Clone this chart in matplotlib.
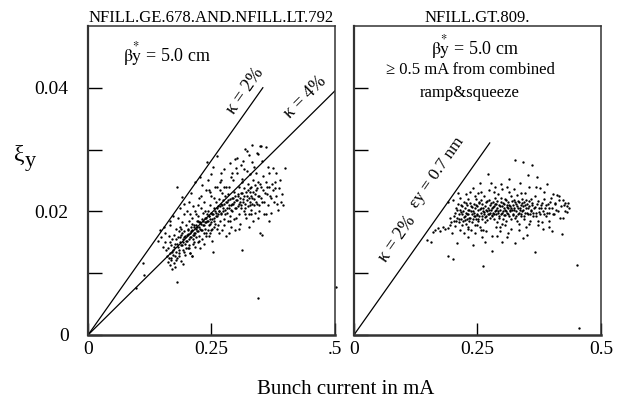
import numpy as np
import matplotlib
matplotlib.use("Agg")
import matplotlib.pyplot as plt

plt.rcParams['font.family'] = ['Liberation Serif', 'DejaVu Serif']
plt.rcParams['mathtext.fontset'] = 'stix'

# ---- data ----
left_title = "NFILL.GE.678.AND.NFILL.LT.792"
right_title = "NFILL.GT.809."

# slopes of the reference lines (xi_y per mA)
kappa2_slope = 0.113
kappa4_slope = 0.079
left_k2_end = 0.354
left_k4_end = 0.5
right_line_end = 0.275

left_pts = np.array([
    (0.142,0.0152),(0.148,0.0158),(0.151,0.0143),(0.155,0.0165),(0.158,0.0138),(0.146,0.0170),(0.153,0.0175),(0.159,0.0128),(0.156,0.0150),
    (0.161,0.0118),(0.163,0.0125),(0.165,0.0132),(0.166,0.0113),(0.168,0.0145),(0.169,0.0121),(0.171,0.0155),(0.172,0.0138),(0.174,0.0117),
    (0.175,0.0162),(0.176,0.0128),(0.177,0.0148),(0.178,0.0172),(0.179,0.0135),(0.163,0.0160),(0.167,0.0185),(0.173,0.0192),(0.170,0.0107),
    (0.176,0.0110),(0.180,0.0240),(0.165,0.0178),
    (0.181,0.0125),(0.182,0.0142),(0.183,0.0158),(0.184,0.0168),(0.185,0.0133),(0.186,0.0150),(0.187,0.0175),(0.188,0.0120),(0.189,0.0162),
    (0.190,0.0145),(0.191,0.0182),(0.192,0.0155),(0.193,0.0138),(0.194,0.0168),(0.195,0.0195),(0.196,0.0148),(0.197,0.0160),(0.198,0.0178),
    (0.199,0.0140),(0.190,0.0224),(0.186,0.0205),(0.194,0.0212),(0.183,0.0190),(0.197,0.0130),(0.189,0.0172),(0.192,0.0115),
    (0.201,0.0152),(0.202,0.0170),(0.203,0.0163),(0.204,0.0145),(0.205,0.0185),(0.206,0.0158),(0.207,0.0133),(0.208,0.0175),(0.209,0.0168),
    (0.210,0.0128),(0.211,0.0190),(0.212,0.0155),(0.213,0.0148),(0.214,0.0178),(0.215,0.0162),(0.216,0.0200),(0.217,0.0248),(0.218,0.0172),
    (0.219,0.0158),(0.220,0.0185),(0.204,0.0215),(0.208,0.0230),(0.212,0.0208),(0.216,0.0142),(0.219,0.0195),(0.202,0.0140),(0.214,0.0165),
    (0.210,0.0180),
    (0.221,0.0168),(0.222,0.0150),(0.223,0.0192),(0.224,0.0175),(0.225,0.0160),(0.226,0.0183),(0.227,0.0256),(0.228,0.0170),(0.229,0.0205),
    (0.230,0.0155),(0.231,0.0188),(0.232,0.0178),(0.233,0.0198),(0.234,0.0165),(0.235,0.0215),(0.236,0.0182),(0.237,0.0172),(0.238,0.0235),
    (0.239,0.0190),(0.240,0.0280),(0.225,0.0222),(0.230,0.0243),(0.234,0.0148),(0.227,0.0140),(0.236,0.0200),(0.222,0.0185),(0.239,0.0160),
    (0.241,0.0185),(0.242,0.0170),(0.243,0.0200),(0.244,0.0192),(0.245,0.0178),(0.246,0.0210),(0.247,0.0165),(0.248,0.0188),(0.249,0.0225),
    (0.250,0.0182),(0.251,0.0196),(0.252,0.0172),(0.253,0.0272),(0.254,0.0134),(0.255,0.0205),(0.256,0.0190),(0.257,0.0240),(0.258,0.0180),
    (0.259,0.0215),(0.260,0.0198),(0.261,0.0289),(0.244,0.0160),(0.248,0.0232),(0.252,0.0152),(0.256,0.0175),(0.243,0.0250),(0.250,0.0260),
    (0.262,0.0192),(0.263,0.0208),(0.264,0.0178),(0.265,0.0220),(0.266,0.0200),(0.267,0.0248),(0.268,0.0185),(0.269,0.0212),(0.270,0.0195),
    (0.271,0.0230),(0.272,0.0170),(0.273,0.0205),(0.274,0.0218),(0.275,0.0188),(0.276,0.0240),(0.277,0.0202),(0.278,0.0225),(0.279,0.0160),
    (0.270,0.0262),(0.265,0.0165),(0.275,0.0268),(0.268,0.0235),
    (0.281,0.0198),(0.282,0.0215),(0.283,0.0185),(0.284,0.0228),(0.285,0.0205),(0.286,0.0240),(0.287,0.0192),(0.288,0.0279),(0.289,0.0210),
    (0.290,0.0175),(0.291,0.0222),(0.292,0.0200),(0.293,0.0250),(0.294,0.0212),(0.295,0.0188),(0.296,0.0232),(0.297,0.0205),(0.298,0.0284),
    (0.299,0.0218),(0.285,0.0165),(0.292,0.0262),(0.297,0.0170),
    (0.301,0.0287),(0.302,0.0262),(0.303,0.0208),(0.304,0.0225),(0.305,0.0195),(0.306,0.0240),(0.307,0.0215),(0.308,0.0180),(0.309,0.0230),
    (0.310,0.0205),(0.311,0.0252),(0.312,0.0138),(0.313,0.0220),(0.314,0.0282),(0.315,0.0200),(0.316,0.0238),(0.317,0.0212),(0.318,0.0301),
    (0.319,0.0190),(0.312,0.0248),(0.305,0.0172),(0.316,0.0268),
    (0.321,0.0297),(0.322,0.0225),(0.323,0.0208),(0.324,0.0245),(0.325,0.0195),(0.326,0.0291),(0.327,0.0232),(0.328,0.0215),(0.329,0.0260),
    (0.330,0.0202),(0.331,0.0240),(0.332,0.0308),(0.333,0.0222),(0.334,0.0185),(0.335,0.0250),(0.336,0.0210),(0.337,0.0272),(0.338,0.0228),
    (0.339,0.0198),(0.325,0.0175),
    (0.341,0.0235),(0.342,0.0295),(0.343,0.0212),(0.344,0.0293),(0.345,0.0248),(0.346,0.0200),(0.347,0.0225),(0.348,0.0305),(0.348,0.0165),
    (0.350,0.0306),(0.351,0.0240),(0.352,0.0161),(0.353,0.0215),(0.355,0.0258),(0.356,0.0195),(0.358,0.0230),(0.360,0.0304),(0.344,0.0060),
    (0.362,0.0240),(0.364,0.0210),(0.366,0.0262),(0.368,0.0225),(0.370,0.0198),(0.372,0.0245),(0.375,0.0270),(0.377,0.0215),(0.379,0.0238),
    (0.382,0.0212),(0.385,0.0202),(0.388,0.0250),(0.392,0.0228),(0.399,0.0270),(0.395,0.0210),(0.366,0.0185),
    (0.112,0.0116),(0.113,0.0097),(0.098,0.0076),(0.180,0.0086),(0.207,0.0133),(0.210,0.0128),(0.502,0.0078),
    # dense band along the 4% line
    (0.162,0.0140),(0.166,0.0150),(0.170,0.0135),(0.174,0.0142),(0.178,0.0155),(0.181,0.0148),(0.184,0.0138),(0.187,0.0158),(0.188,0.0145),
    (0.191,0.0165),(0.193,0.0150),(0.195,0.0158),(0.198,0.0152),(0.200,0.0162),(0.203,0.0172),(0.205,0.0155),(0.207,0.0165),(0.209,0.0158),
    (0.211,0.0170),(0.213,0.0162),(0.215,0.0175),(0.217,0.0165),(0.219,0.0178),(0.221,0.0175),(0.223,0.0168),(0.225,0.0182),(0.227,0.0172),
    (0.229,0.0180),(0.231,0.0170),(0.233,0.0185),(0.235,0.0178),(0.237,0.0190),(0.239,0.0182),(0.241,0.0195),(0.243,0.0185),(0.245,0.0192),
    (0.247,0.0180),(0.249,0.0198),(0.251,0.0188),(0.253,0.0195),(0.255,0.0185),(0.257,0.0200),(0.259,0.0192),(0.261,0.0205),(0.263,0.0195),
    (0.265,0.0200),(0.267,0.0208),(0.269,0.0198),(0.271,0.0210),(0.273,0.0200),(0.275,0.0212),(0.277,0.0195),(0.279,0.0215),(0.281,0.0205),
    (0.283,0.0218),(0.285,0.0210),(0.287,0.0220),(0.289,0.0202),(0.291,0.0212),(0.293,0.0222),(0.295,0.0215),(0.297,0.0225),(0.299,0.0205),
    (0.301,0.0218),(0.303,0.0228),(0.305,0.0212),(0.307,0.0222),(0.309,0.0210),(0.311,0.0230),(0.313,0.0215),(0.315,0.0225),(0.317,0.0205),
    (0.319,0.0232),(0.321,0.0218),(0.323,0.0235),(0.325,0.0222),(0.327,0.0210),(0.329,0.0238),(0.331,0.0225),(0.333,0.0212),(0.335,0.0232),
    (0.337,0.0220),(0.339,0.0242),(0.341,0.0215),(0.343,0.0238),(0.345,0.0225),(0.347,0.0210),(0.349,0.0245),(0.351,0.0222),(0.354,0.0235),
    (0.357,0.0215),(0.360,0.0248),(0.363,0.0228),(0.367,0.0240),(0.371,0.0222),(0.374,0.0235),(0.378,0.0248),(0.381,0.0225),(0.386,0.0238),
    (0.390,0.0215),
    (0.200,0.0200),(0.206,0.0195),(0.222,0.0210),(0.228,0.0225),(0.244,0.0235),(0.255,0.0222),(0.262,0.0240),(0.270,0.0250),(0.280,0.0240),
    (0.290,0.0255),(0.300,0.0270),(0.310,0.0275),(0.322,0.0265),(0.333,0.0280),(0.340,0.0262),(0.352,0.0282),(0.365,0.0272),(0.381,0.0262),
    (0.168,0.0125),(0.172,0.0130),(0.178,0.0122),(0.185,0.0128),(0.195,0.0135),(0.205,0.0140),(0.215,0.0150),(0.225,0.0152),(0.238,0.0165),
    (0.250,0.0170),(0.262,0.0172),(0.275,0.0178),(0.288,0.0185),(0.300,0.0190),(0.318,0.0195),(0.330,0.0195),(0.345,0.0190),(0.360,0.0195),
])

right_pts = np.array([
    (0.148,0.0154),(0.156,0.0151),(0.160,0.0167),(0.165,0.0170),(0.170,0.0173),(0.175,0.0168),(0.180,0.0175),(0.185,0.0172),(0.190,0.0173),
    (0.190,0.0128),(0.195,0.0178),(0.198,0.0165),(0.190,0.0215),(0.195,0.0190),(0.200,0.0123),(0.200,0.0219),(0.197,0.0182),
    (0.202,0.0185),(0.204,0.0198),(0.205,0.0176),(0.206,0.0205),(0.208,0.0149),(0.208,0.0190),(0.210,0.0212),(0.211,0.0230),(0.212,0.0182),
    (0.213,0.0196),(0.214,0.0170),(0.215,0.0203),(0.216,0.0188),(0.217,0.0210),(0.218,0.0178),(0.219,0.0195),(0.220,0.0185),(0.221,0.0200),
    (0.222,0.0215),(0.223,0.0165),(0.224,0.0192),(0.225,0.0205),(0.226,0.0180),(0.227,0.0198),(0.228,0.0188),(0.229,0.0210),(0.230,0.0175),
    (0.231,0.0195),(0.232,0.0220),(0.233,0.0185),(0.234,0.0202),(0.235,0.0232),(0.236,0.0190),(0.237,0.0170),(0.238,0.0208),(0.239,0.0196),
    (0.241,0.0146),(0.241,0.0238),(0.240,0.0183),
    (0.242,0.0200),(0.243,0.0192),(0.244,0.0212),(0.245,0.0178),(0.246,0.0205),(0.247,0.0188),(0.248,0.0220),(0.249,0.0196),(0.250,0.0208),
    (0.251,0.0185),(0.252,0.0202),(0.253,0.0215),(0.254,0.0192),(0.255,0.0246),(0.256,0.0175),(0.257,0.0205),(0.258,0.0198),(0.259,0.0188),
    (0.260,0.0212),(0.261,0.0112),(0.262,0.0200),(0.263,0.0225),(0.264,0.0195),(0.265,0.0151),(0.265,0.0182),(0.266,0.0208),(0.267,0.0192),
    (0.268,0.0215),(0.269,0.0200),(0.270,0.0186),(0.271,0.0261),(0.272,0.0205),(0.273,0.0196),(0.274,0.0218),(0.275,0.0190),(0.276,0.0210),
    (0.277,0.0246),(0.278,0.0202),(0.279,0.0136),(0.279,0.0194),(0.246,0.0165),(0.252,0.0230),(0.258,0.0170),(0.268,0.0168),(0.274,0.0235),
    (0.280,0.0206),(0.281,0.0198),(0.282,0.0215),(0.283,0.0188),(0.284,0.0208),(0.285,0.0200),(0.286,0.0222),(0.287,0.0195),(0.288,0.0212),
    (0.289,0.0182),(0.290,0.0205),(0.291,0.0198),(0.292,0.0228),(0.293,0.0190),(0.294,0.0210),(0.295,0.0202),(0.296,0.0175),(0.297,0.0215),
    (0.298,0.0196),(0.299,0.0208),(0.300,0.0236),(0.300,0.0151),(0.301,0.0200),(0.302,0.0188),(0.303,0.0212),(0.304,0.0205),(0.305,0.0194),
    (0.306,0.0220),(0.307,0.0200),(0.308,0.0185),(0.309,0.0210),(0.310,0.0198),(0.311,0.0215),(0.312,0.0165),(0.313,0.0205),(0.314,0.0253),
    (0.315,0.0192),(0.316,0.0208),(0.317,0.0200),(0.318,0.0225),(0.319,0.0188),(0.285,0.0240),(0.295,0.0168),(0.305,0.0178),(0.290,0.0160),
    (0.315,0.0232),
    (0.321,0.0202),(0.322,0.0210),(0.323,0.0195),(0.324,0.0218),(0.325,0.0205),(0.326,0.0149),(0.326,0.0283),(0.327,0.0190),(0.328,0.0212),
    (0.329,0.0200),(0.330,0.0226),(0.331,0.0185),(0.332,0.0205),(0.333,0.0196),(0.334,0.0215),(0.335,0.0180),(0.336,0.0246),(0.337,0.0202),
    (0.338,0.0210),(0.339,0.0192),(0.340,0.0220),(0.341,0.0200),(0.342,0.0157),(0.342,0.0280),(0.343,0.0208),(0.344,0.0188),(0.345,0.0215),
    (0.346,0.0230),(0.347,0.0198),(0.348,0.0205),(0.349,0.0175),(0.350,0.0212),(0.352,0.0259),(0.353,0.0195),(0.355,0.0208),(0.357,0.0185),
    (0.358,0.0220),(0.359,0.0200),(0.360,0.0275),
    (0.361,0.0210),(0.362,0.0192),(0.364,0.0205),(0.366,0.0134),(0.366,0.0225),(0.368,0.0198),(0.370,0.0256),(0.371,0.0212),(0.372,0.0185),
    (0.374,0.0205),(0.376,0.0238),(0.377,0.0195),(0.379,0.0210),(0.380,0.0182),(0.382,0.0200),(0.383,0.0172),(0.385,0.0220),(0.387,0.0205),
    (0.389,0.0192),(0.390,0.0245),(0.392,0.0212),(0.394,0.0198),(0.396,0.0185),(0.398,0.0215),
    (0.401,0.0169),(0.402,0.0205),(0.404,0.0228),(0.406,0.0195),(0.408,0.0212),(0.411,0.0227),(0.413,0.0200),(0.416,0.0218),(0.418,0.0190),
    (0.421,0.0163),(0.423,0.0190),(0.425,0.0210),(0.428,0.0200),(0.431,0.0208),(0.433,0.0213),(0.436,0.0205),(0.451,0.0113),(0.455,0.0011),
    # dense core
    (0.203,0.0193),(0.207,0.0184),(0.209,0.0203),(0.213,0.0187),(0.216,0.0199),(0.219,0.0208),(0.222,0.0191),(0.225,0.0186),(0.227,0.0214),
    (0.229,0.0196),(0.232,0.0203),(0.234,0.0189),(0.236,0.0213),(0.238,0.0201),(0.240,0.0207),(0.242,0.0188),(0.244,0.0197),(0.246,0.0192),
    (0.248,0.0211),(0.250,0.0194),(0.252,0.0187),(0.254,0.0213),(0.256,0.0204),(0.258,0.0218),(0.260,0.0193),(0.262,0.0206),(0.264,0.0199),
    (0.266,0.0191),(0.268,0.0203),(0.270,0.0216),(0.272,0.0195),(0.274,0.0202),(0.276,0.0197),(0.278,0.0214),(0.280,0.0192),(0.282,0.0207),
    (0.284,0.0196),(0.286,0.0212),(0.288,0.0203),(0.290,0.0217),(0.292,0.0201),(0.294,0.0193),(0.296,0.0209),(0.298,0.0221),(0.300,0.0197),
    (0.302,0.0213),(0.304,0.0194),(0.306,0.0203),(0.308,0.0218),(0.310,0.0207),(0.312,0.0196),(0.314,0.0211),(0.316,0.0202),(0.318,0.0206),
    (0.320,0.0217),(0.322,0.0194),(0.324,0.0203),(0.326,0.0215),(0.328,0.0192),(0.330,0.0209),(0.332,0.0217),(0.334,0.0198),(0.336,0.0206),
    (0.338,0.0195),(0.340,0.0213),(0.342,0.0203),(0.344,0.0192),(0.346,0.0211),(0.348,0.0219),(0.350,0.0197),(0.352,0.0206),(0.354,0.0216),
    (0.356,0.0196),(0.358,0.0203),(0.360,0.0214),(0.363,0.0198),(0.366,0.0207),(0.369,0.0193),(0.372,0.0217),(0.375,0.0199),(0.378,0.0206),
    (0.381,0.0213),(0.384,0.0196),(0.388,0.0211),(0.391,0.0198),(0.395,0.0206),(0.399,0.0222),(0.403,0.0196),(0.407,0.0214),(0.410,0.0203),
    (0.415,0.0225),(0.419,0.0208),(0.424,0.0218),(0.428,0.0214),(0.432,0.0199),
    (0.215,0.0222),(0.226,0.0228),(0.245,0.0225),(0.258,0.0232),(0.283,0.0232),(0.297,0.0245),(0.310,0.0240),(0.325,0.0236),(0.338,0.0230),
    (0.355,0.0240),(0.368,0.0240),(0.385,0.0232),(0.230,0.0172),(0.250,0.0178),(0.262,0.0170),(0.288,0.0175),(0.300,0.0180),(0.318,0.0172),
    (0.335,0.0170),(0.355,0.0180),(0.372,0.0178),(0.395,0.0175),(0.280,0.0160),(0.310,0.0158),(0.260,0.0158),(0.230,0.0158),(0.350,0.0162),
])

fig = plt.figure(figsize=(6.22, 4.04), dpi=100)
ax1 = fig.add_axes([0.1415, 0.1708, 0.397, 0.765])
ax2 = fig.add_axes([0.569, 0.1708, 0.397, 0.765])

for ax in (ax1, ax2):
    ax.set_xlim(0, 0.5)
    ax.set_ylim(0, 0.05)
    ax.set_xticks([0, 0.25, 0.5])
    ax.set_yticks([0, 0.01, 0.02, 0.03, 0.04])
    ax.tick_params(axis='y', direction='in', length=10, width=1, left=True, right=False,
                   labelsize=14, pad=14)
    ax.tick_params(axis='x', direction='in', length=9, width=1, labelsize=14, pad=4)
    for s in ax.spines.values():
        s.set_linewidth(1.1)
        s.set_color('#333333')
    ax.spines['bottom'].set_linewidth(1.8)
    ax.spines['left'].set_linewidth(1.6)

ax1.set_yticklabels(['0', '', '0.02', '', '0.04'])
ax2.set_yticklabels([])
ax1.set_xticklabels(['0', '0.25', '.5'])
ax2.set_xticklabels(['0', '0.25', '0.5'])

ax1.set_title(left_title, fontsize=12, pad=3)
ax2.set_title(right_title, fontsize=12, pad=3)

# reference lines
ax1.plot([0, left_k2_end], [0, kappa2_slope * left_k2_end], color='k', lw=0.9)
ax1.plot([0, left_k4_end], [0, kappa4_slope * left_k4_end], color='k', lw=0.9)
ax2.plot([0, right_line_end], [0, kappa2_slope * right_line_end], color='k', lw=0.9)

ax1.plot(left_pts[:, 0], left_pts[:, 1], 'k.', ms=3.4, mew=0, clip_on=False)
ax2.plot(right_pts[:, 0], right_pts[:, 1], 'k.', ms=3.4, mew=0, clip_on=False)

# annotations
beta_txt = r'$\mathrm{\beta}\overset{*}{\mathrm{y}}$ = 5.0 cm'
ax1.text(0.07, 0.0455, beta_txt, fontsize=13, va='center')
ax1.text(0.318, 0.0395, 'κ = 2%', rotation=55, fontsize=13, ha='center', va='center')
ax1.text(0.44, 0.0385, 'κ = 4%', rotation=45, fontsize=13, ha='center', va='center')

ax2.text(0.245, 0.0466, beta_txt, fontsize=13, ha='center', va='center')
ax2.text(0.235, 0.0428, '≥ 0.5 mA from combined', fontsize=12, ha='center', va='center')
ax2.text(0.235, 0.0392, 'ramp&squeeze', fontsize=12, ha='center', va='center')
ax2.text(0.088, 0.0155, 'κ = 2%', rotation=55, fontsize=13, ha='center', va='center')
ax2.text(0.168, 0.0262, 'εy = 0.7 nm', rotation=55, fontsize=12.5, ha='center', va='center')

# y label: upright xi with a lowered y
fig.text(0.031, 0.615, 'ξ', fontsize=17, ha='center', va='center')
fig.text(0.049, 0.600, 'y', fontsize=16, ha='center', va='center')
fig.text(0.555, 0.035, 'Bunch current in mA', fontsize=15, ha='center', va='center')

fig.savefig('out.png', dpi=100)
